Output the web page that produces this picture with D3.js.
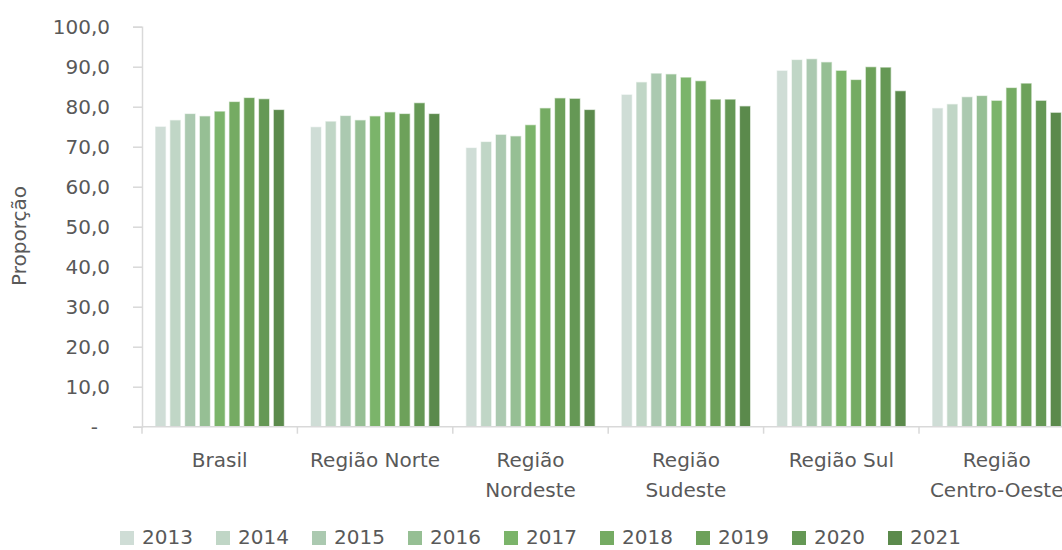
<!DOCTYPE html>
<html>
<head>
<meta charset="utf-8">
<script src="https://cdn.jsdelivr.net/npm/d3@7"></script>
<style>
  body { margin: 0; background: #fff; }
  svg { display: block; font-family: "DejaVu Sans", sans-serif; }
  .lbl { fill: #595959; font-size: 20px; }
</style>
</head>
<body>
<svg id="chart" width="1062" height="550"></svg>
<script>
const categories = [["Brasil"], ["Região Norte"], ["Região", "Nordeste"], ["Região", "Sudeste"], ["Região Sul"], ["Região", "Centro-Oeste"]]
const years = ["2013", "2014", "2015", "2016", "2017", "2018", "2019", "2020", "2021"]
const colors = ["#cfddd6", "#c0d6c6", "#abc9b0", "#96bf94", "#7bb46a", "#75ab63", "#6da15a", "#659855", "#5b8a4c"]

const brasil      = [75.1, 76.7, 78.3, 77.7, 78.9, 81.3, 82.3, 82.0, 79.3]
const norte       = [75.0, 76.4, 77.8, 76.7, 77.7, 78.7, 78.3, 81.0, 78.3]
const nordeste    = [69.8, 71.3, 73.1, 72.7, 75.5, 79.7, 82.2, 82.1, 79.3]
const sudeste     = [83.1, 86.2, 88.4, 88.2, 87.4, 86.5, 81.9, 81.9, 80.2]
const sul         = [89.1, 91.8, 92.0, 91.2, 89.1, 86.8, 90.0, 89.9, 84.0]
const centroOeste = [79.7, 80.7, 82.5, 82.8, 81.6, 84.8, 85.9, 81.6, 78.6]

const yTicks = [0, 10, 20, 30, 40, 50, 60, 70, 80, 90, 100]

const series = [brasil, norte, nordeste, sudeste, sul, centroOeste]
const data = categories.map((c, i) => ({ cat: c.join(" "), lines: c, values: series[i] }))

const svg = d3.select("#chart")
const margin = { left: 142, top: 26.7, bottom: 426.7 }
const catWidth = 155.4

let x0 = d3.scaleBand()
  .domain(data.map(d => d.cat))
  .range([margin.left, margin.left + catWidth * data.length])

let x1 = d3.scaleBand()
  .domain(years)
  .range([0, x0.bandwidth()])
  .paddingInner(0.25)
  .paddingOuter(0.88)

let y = d3.scaleLinear()
  .domain([0, 100])
  .range([margin.bottom, margin.top])

let color = d3.scaleOrdinal().domain(years).range(colors)

// y axis
let fm = d3.format(".1f")
let yAxis = d3.axisLeft(y)
  .tickValues(yTicks)
  .tickSize(9)
  .tickPadding(23)
  .tickFormat(d => d === 0 ? "-" : fm(d).replace(".", ","))

let gy = svg.append("g")
  .attr("transform", `translate(${margin.left},0)`)
  .call(yAxis)
gy.select(".domain").attr("stroke", "#d9d9d9").attr("stroke-width", 1.5)
gy.selectAll(".tick line").attr("stroke", "#d9d9d9").attr("stroke-width", 1.5)
gy.attr("font-family", null).attr("font-size", null)
gy.selectAll(".tick text")
  .attr("class", "lbl")
  .attr("fill", null)
  .attr("dx", d => d === 0 ? -12 : 0)

// bars
let groups = svg.append("g").selectAll("g")
  .data(data)
  .enter().append("g")
  .attr("transform", d => `translate(${x0(d.cat)},0)`)

groups.selectAll("rect")
  .data(d => d.values.map((v, i) => ({ year: years[i], value: v })))
  .enter().append("rect")
  .attr("x", d => x1(d.year))
  .attr("y", d => y(d.value))
  .attr("width", x1.bandwidth())
  .attr("height", d => margin.bottom - y(d.value))
  .attr("fill", d => color(d.year))
  .attr("stroke", "#fff")
  .attr("stroke-opacity", 0.6)
  .attr("stroke-width", 1.2)

// x axis
let gx = svg.append("g")
gx.append("line")
  .attr("x1", margin.left).attr("x2", x0.range()[1])
  .attr("y1", margin.bottom).attr("y2", margin.bottom)
  .attr("stroke", "#d9d9d9").attr("stroke-width", 1.5)

let bounds = data.map(d => x0(d.cat)).concat([x0.range()[1]])
gx.selectAll(".bt")
  .data(bounds)
  .enter().append("line")
  .attr("x1", d => d).attr("x2", d => d)
  .attr("y1", margin.bottom).attr("y2", margin.bottom + 7)
  .attr("stroke", "#d9d9d9").attr("stroke-width", 1.5)

let lab = gx.selectAll(".cl")
  .data(data)
  .enter().append("text")
  .attr("class", "lbl")
  .attr("text-anchor", "middle")
  .attr("x", d => x0(d.cat) + x0.bandwidth() / 2)
  .attr("y", 467)

lab.selectAll("tspan")
  .data(d => d.lines)
  .enter().append("tspan")
  .attr("x", function() { return d3.select(this.parentNode).attr("x") })
  .attr("dy", (d, i) => i === 0 ? 0 : 30)
  .text(d => d)

// y label
svg.append("text")
  .attr("class", "lbl")
  .attr("text-anchor", "middle")
  .attr("transform", "translate(26,236) rotate(-90)")
  .text("Proporção")

// legend
let legend = svg.append("g")
  .selectAll("g")
  .data(years)
  .enter().append("g")
  .attr("transform", (d, i) => `translate(${120 + i * 96},0)`)

legend.append("rect")
  .attr("x", 0).attr("y", 531)
  .attr("width", 14).attr("height", 14)
  .attr("fill", d => color(d))

legend.append("text")
  .attr("class", "lbl")
  .attr("x", 22).attr("y", 544)
  .text(d => d)
</script>
</body>
</html>
